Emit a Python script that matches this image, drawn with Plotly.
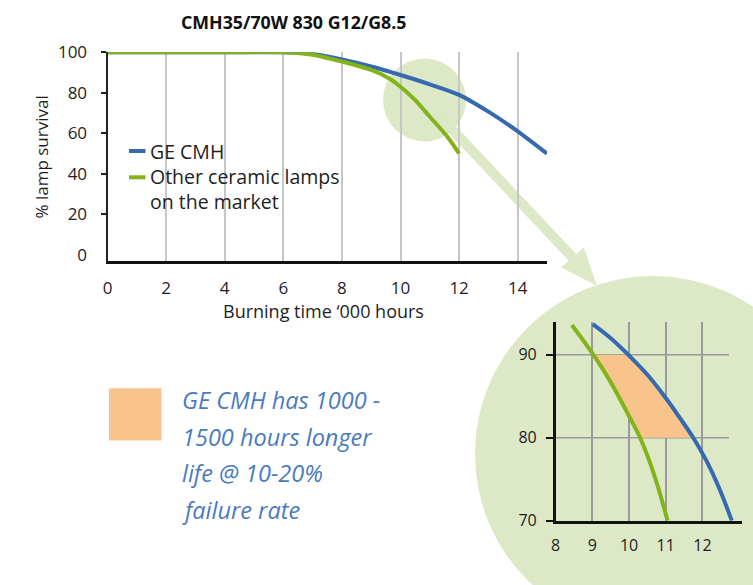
import numpy as np
import plotly.graph_objects as go

# ---------------- data ----------------
title_text = "CMH35/70W 830 G12/G8.5"
series_names = ["GE CMH", "Other ceramic lamps<br>on the market"]

hours_ge = [0, 2, 4, 6, 7, 8, 9, 10, 11, 12, 13, 14, 15]
surv_ge = [100, 100, 100, 100, 99.2, 96.5, 93.0, 88.8, 84.2, 79.0, 70.7, 61.0, 50.0]

hours_other = [0, 2, 4, 6, 7, 8, 9, 9.6, 10, 10.5, 11, 11.6, 12]
surv_other = [100, 100, 100, 100, 98.8, 95.4, 91.3, 87.2, 83.0, 76.4, 68.2, 58.3, 50.0]

x_ticks = [0, 2, 4, 6, 8, 10, 12, 14]
y_ticks = [0, 20, 40, 60, 80, 100]

# zoomed inset
zoom_hours_ge = [9.01, 9.5, 9.98, 10.5, 11.0, 11.4, 11.75, 12.1, 12.44, 12.8]
zoom_surv_ge = [93.7, 92.0, 90.0, 87.6, 84.8, 82.3, 80.0, 77.3, 74.1, 70.0]
zoom_hours_other = [8.44, 9.03, 9.5, 10.0, 10.3, 10.68, 11.05]
zoom_surv_other = [93.6, 90.0, 86.7, 82.6, 80.0, 75.6, 70.0]
zoom_x_ticks = [8, 9, 10, 11, 12]
zoom_y_ticks = [70, 80, 90]
band_low, band_high = 80, 90

note_lines = ["GE CMH has 1000 -", "1500 hours longer", "life @ 10-20%", "failure rate"]

# ---------------- styling ----------------
W, H = 753, 585
BLUE = "#3569B0"
GREEN = "#82B41A"
LIGHT = "#DDE8C6"
ORANGE = "#F8C48B"
NOTE = "#4A7BBE"
FONT = "Open Sans"
TXT = "#1E1E1E"


def px(x):
    return x / W


def py(y):
    return 1 - y / H


fig = go.Figure()

# main chart lines (GE first, other on top)
fig.add_trace(go.Scatter(x=hours_ge, y=surv_ge, mode="lines",
                         line=dict(color=BLUE, width=4, shape="spline", smoothing=0.8),
                         xaxis="x", yaxis="y", showlegend=False, hoverinfo="skip"))
fig.add_trace(go.Scatter(x=hours_other, y=surv_other, mode="lines",
                         line=dict(color=GREEN, width=4, shape="spline", smoothing=0.8),
                         xaxis="x", yaxis="y", showlegend=False, hoverinfo="skip"))

# inset: orange band between curves from 80 to 90
ys = np.linspace(band_high, band_low, 41)
gx = np.interp(ys, zoom_surv_other[::-1], zoom_hours_other[::-1])
bx = np.interp(ys, zoom_surv_ge[::-1], zoom_hours_ge[::-1])
poly_x = list(gx) + list(bx[::-1])
poly_y = list(ys) + list(ys[::-1])
fig.add_trace(go.Scatter(x=poly_x, y=poly_y, mode="lines", fill="toself",
                         fillcolor=ORANGE, line=dict(width=0, color=ORANGE),
                         xaxis="x2", yaxis="y2", showlegend=False, hoverinfo="skip"))
fig.add_trace(go.Scatter(x=zoom_hours_other, y=zoom_surv_other, mode="lines",
                         line=dict(color=GREEN, width=4, shape="spline", smoothing=1.0),
                         xaxis="x2", yaxis="y2", showlegend=False, hoverinfo="skip"))
fig.add_trace(go.Scatter(x=zoom_hours_ge, y=zoom_surv_ge, mode="lines",
                         line=dict(color=BLUE, width=4, shape="spline", smoothing=1.0),
                         xaxis="x2", yaxis="y2", showlegend=False, hoverinfo="skip"))

shapes = []
# big circle behind inset
cx, cy, r = 653, 454, 178
shapes.append(dict(type="circle", xref="paper", yref="paper", layer="below",
                   x0=px(cx - r), x1=px(cx + r), y0=py(cy + r), y1=py(cy - r),
                   fillcolor=LIGHT, line=dict(width=0)))
# small highlight circle
scx, scy, sr = 424.5, 100, 41.5
shapes.append(dict(type="circle", xref="paper", yref="paper", layer="below",
                   x0=px(scx - sr), x1=px(scx + sr), y0=py(scy + sr), y1=py(scy - sr),
                   fillcolor=LIGHT, line=dict(width=0)))
# connector band
shapes.append(dict(type="line", xref="paper", yref="paper", layer="below",
                   x0=px(scx), y0=py(scy), x1=px(572.5), y1=py(257.5),
                   line=dict(color=LIGHT, width=10)))
# arrow head
pts = [(561.0, 267.5), (584.0, 247.5), (596.7, 285.5)]
path = "M " + " L ".join(f"{px(a):.5f},{py(b):.5f}" for a, b in pts) + " Z"
shapes.append(dict(type="path", xref="paper", yref="paper", layer="below",
                   path=path, fillcolor=LIGHT, line=dict(width=0)))
# inset horizontal gridlines
for v in [band_low, band_high]:
    shapes.append(dict(type="line", xref="x2", yref="y2", layer="between",
                       x0=zoom_x_ticks[0], x1=12.72, y0=v, y1=v,
                       line=dict(color="#9A9A9A", width=1.5)))
# legend swatches
shapes.append(dict(type="line", xref="paper", yref="paper",
                   x0=px(129), x1=px(145.5), y0=py(151), y1=py(151),
                   line=dict(color=BLUE, width=4)))
shapes.append(dict(type="line", xref="paper", yref="paper",
                   x0=px(129), x1=px(145.5), y0=py(177.3), y1=py(177.3),
                   line=dict(color=GREEN, width=4)))
# orange key square
shapes.append(dict(type="rect", xref="paper", yref="paper",
                   x0=px(109), x1=px(161.5), y0=py(440.5), y1=py(388.3),
                   fillcolor=ORANGE, line=dict(width=0)))

annotations = []
annotations.append(dict(text=f"<b>{title_text}</b>", x=px(293), y=py(22), xref="paper", yref="paper",
                        showarrow=False, font=dict(family=FONT, size=17.8, color="#111"),
                        xanchor="center", yanchor="middle"))
annotations.append(dict(text="% lamp survival", x=px(41), y=py(157.5), xref="paper", yref="paper",
                        showarrow=False, textangle=-90, font=dict(family=FONT, size=17, color=TXT),
                        xanchor="center", yanchor="middle"))
annotations.append(dict(text="Burning time \u2018000 hours", x=px(323), y=py(311), xref="paper", yref="paper",
                        showarrow=False, font=dict(family=FONT, size=18, color=TXT),
                        xanchor="center", yanchor="middle"))
annotations.append(dict(text=series_names[0], x=px(148), y=py(151.7), xref="paper", yref="paper",
                        showarrow=False, font=dict(family=FONT, size=19.5, color=TXT),
                        xanchor="left", yanchor="middle"))
annotations.append(dict(text=series_names[1], x=px(148), y=py(189.5), xref="paper", yref="paper",
                        showarrow=False, font=dict(family=FONT, size=19.5, color=TXT),
                        xanchor="left", yanchor="middle", align="left"))
for txt, yy in zip(note_lines, [400, 436.7, 473.3, 510]):
    annotations.append(dict(text=f"<i>{txt}</i>", x=px(180), y=py(yy), xref="paper", yref="paper",
                            showarrow=False, font=dict(family=FONT, size=23.5, color=NOTE),
                            xanchor="left", yanchor="middle"))

tickfont = dict(family=FONT, size=17, color=TXT)
fig.update_layout(
    width=W, height=H,
    margin=dict(l=0, r=0, t=0, b=0, pad=0, autoexpand=False),
    paper_bgcolor="white", plot_bgcolor="rgba(0,0,0,0)",
    showlegend=False,
    xaxis=dict(domain=[px(107.5), px(547)], range=[0, 15], anchor="y", automargin=False,
               tickmode="array", tickvals=x_ticks, ticks="", ticklabelstandoff=10,
               showgrid=True, gridcolor="#C6C6C6", gridwidth=1.5, zeroline=False,
               showline=True, linecolor="#111", linewidth=2.5, tickfont=tickfont),
    yaxis=dict(domain=[py(261), py(52.3)], range=[-3, 100], anchor="x", automargin=False,
               tickmode="array", tickvals=y_ticks, ticks="", ticklabelstandoff=15,
               minor=dict(tickvals=y_ticks[1:], ticks="outside", ticklen=5, tickwidth=1.5,
                          tickcolor="#222", showgrid=False),
               showgrid=False, zeroline=False,
               showline=True, linecolor="#222", linewidth=2, tickfont=tickfont),
    xaxis2=dict(domain=[px(555.7), px(741.7)], range=[8, 13.07], anchor="y2", automargin=False,
                tickmode="array", tickvals=zoom_x_ticks, ticks="", ticklabelstandoff=8,
                showgrid=True, gridcolor="#9A9A9A", gridwidth=1.5, zeroline=False,
                showline=True, linecolor="#111", linewidth=2.5,
                tickfont=dict(family=FONT, size=16, color=TXT)),
    yaxis2=dict(domain=[py(520.7), py(321.7)], range=[70, 94.0], anchor="x2", automargin=False,
                tickmode="array", tickvals=zoom_y_ticks, ticks="outside", ticklen=7,
                tickwidth=1.5, tickcolor="#111", ticklabelstandoff=6,
                showgrid=False, zeroline=False,
                showline=True, linecolor="#111", linewidth=2.5,
                tickfont=dict(family=FONT, size=16, color=TXT)),
    shapes=shapes,
    annotations=annotations,
)

fig.write_html("out.html", config={"displayModeBar": False},
               post_script="document.body.style.margin='0';")
